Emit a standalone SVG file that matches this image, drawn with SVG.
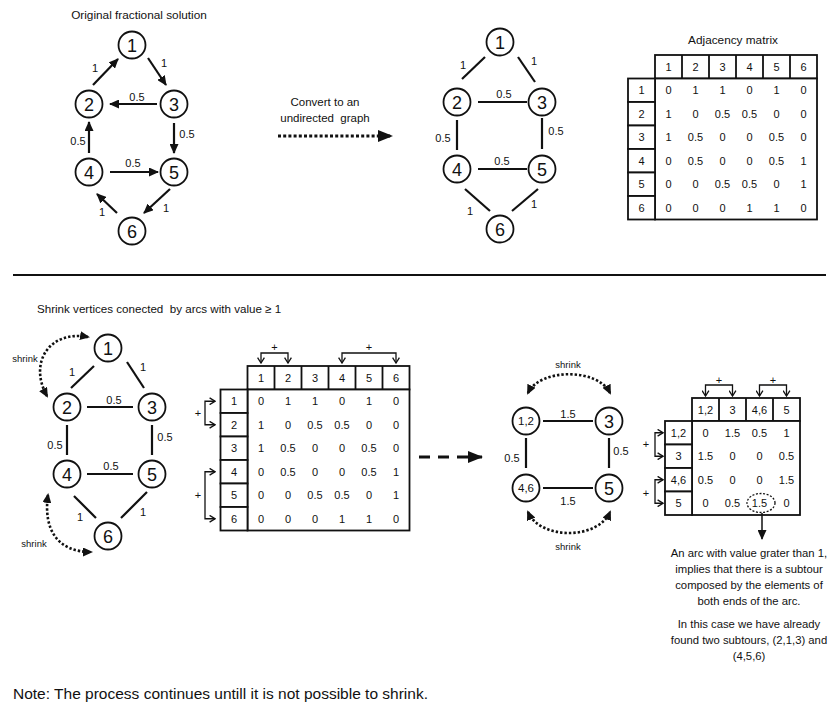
<svg xmlns="http://www.w3.org/2000/svg" width="830" height="707" viewBox="0 0 830 707">
<style>
text { font-family: "Liberation Sans", Arial, sans-serif; fill: #111; }
.title { font-size: 11.8px; }
.num { font-size: 18px; text-anchor: middle; }
.num-s { font-size: 11.5px; text-anchor: middle; }
.lbl { font-size: 11px; text-anchor: middle; }
.cell { font-size: 11px; text-anchor: middle; }
.small { font-size: 9.5px; text-anchor: middle; }
.para { font-size: 11.3px; text-anchor: middle; }
.note { font-size: 15.5px; }
.node circle { fill: #fff; stroke: #111; stroke-width: 1.8; }
.edge { stroke: #111; stroke-width: 2.2; fill: none; }
.arc { marker-end: url(#ah); }
.grid { fill: #fff; stroke: #111; stroke-width: 1.8; }
.div { stroke: #111; stroke-width: 1.8; }
.bracket { stroke: #111; stroke-width: 1.3; fill: none; marker-start: url(#chev); marker-end: url(#chev); }
.dots { stroke: #111; stroke-width: 2.6; fill: none; stroke-dasharray: 2.4 2; marker-start: url(#ahs); marker-end: url(#ahs); }
</style>
<defs>
  <marker id="ah" viewBox="0 0 10 9" refX="9" refY="4.5" markerWidth="10" markerHeight="9" markerUnits="userSpaceOnUse" orient="auto">
    <path d="M0,0 L10,4.5 L0,9 z" fill="#111"/>
  </marker>
  <marker id="ahs" viewBox="0 0 10 9" refX="8" refY="4.5" markerWidth="10" markerHeight="9" markerUnits="userSpaceOnUse" orient="auto-start-reverse">
    <path d="M0,0 L10,4.5 L0,9 z" fill="#111"/>
  </marker>
  <marker id="big" viewBox="0 0 15 12" refX="14" refY="6" markerWidth="15" markerHeight="12" markerUnits="userSpaceOnUse" orient="auto">
    <path d="M0,0 L15,6 L0,12 z" fill="#111"/>
  </marker>
  <marker id="chev" viewBox="0 0 7 8" refX="6" refY="4" markerWidth="7" markerHeight="8" markerUnits="userSpaceOnUse" orient="auto-start-reverse">
    <path d="M0.6,0.6 L6,4 L0.6,7.4" fill="none" stroke="#111" stroke-width="1.3"/>
  </marker>
</defs>

<rect width="830" height="707" fill="#fff"/>

<!-- ===== Directed fractional solution ===== -->
<text class="title" x="139" y="19" text-anchor="middle">Original fractional solution</text>
<g id="directed-connectors">
  <line class="edge arc" x1="93" y1="85" x2="118" y2="59"/>
  <line class="edge arc" x1="148" y1="58" x2="166" y2="85"/>
  <line class="edge arc" x1="157" y1="104" x2="110" y2="104"/>
  <line class="edge arc" x1="174" y1="123" x2="174" y2="153"/>
  <line class="edge arc" x1="89" y1="153" x2="89" y2="122"/>
  <line class="edge arc" x1="110" y1="172" x2="158" y2="172"/>
  <line class="edge arc" x1="170" y1="189" x2="144" y2="213"/>
  <line class="edge arc" x1="117" y1="213" x2="97" y2="194"/>
  <text class="lbl" x="95" y="72">1</text>
  <text class="lbl" x="164" y="67">1</text>
  <text class="lbl" x="137" y="101">0.5</text>
  <text class="lbl" x="187" y="138">0.5</text>
  <text class="lbl" x="78" y="145">0.5</text>
  <text class="lbl" x="133" y="167">0.5</text>
  <text class="lbl" x="166" y="212">1</text>
  <text class="lbl" x="102" y="216">1</text>
</g>
<g id="d-n1" class="node"><circle cx="132" cy="45" r="13.5"/><text class="num" x="132" y="51.5">1</text></g>
<g id="d-n2" class="node"><circle cx="89" cy="104" r="13.5"/><text class="num" x="89" y="110.5">2</text></g>
<g id="d-n3" class="node"><circle cx="174" cy="104" r="13.5"/><text class="num" x="174" y="110.5">3</text></g>
<g id="d-n4" class="node"><circle cx="89" cy="172" r="13.5"/><text class="num" x="89" y="178.5">4</text></g>
<g id="d-n5" class="node"><circle cx="174" cy="172" r="13.5"/><text class="num" x="174" y="178.5">5</text></g>
<g id="d-n6" class="node"><circle cx="132" cy="231" r="13.5"/><text class="num" x="132" y="237.5">6</text></g>

<!-- conversion arrow -->
<g id="convert">
  <text class="lbl" style="font-size:11.5px" x="325" y="105.5">Convert to an</text>
  <text class="lbl" style="font-size:11.5px" x="325" y="122" xml:space="preserve">undirected  graph</text>
  <line x1="278" y1="136" x2="392" y2="136" stroke="#111" stroke-width="3" stroke-dasharray="3 2.2" marker-end="url(#big)"/>
</g>

<!-- ===== Undirected graph ===== -->
<g id="undirected-connectors">
  <line class="edge" x1="462" y1="79" x2="485" y2="57"/>
  <line class="edge" x1="518" y1="57" x2="535" y2="82"/>
  <line class="edge" x1="478" y1="102" x2="527" y2="102"/>
  <line class="edge" x1="457" y1="120" x2="457" y2="150"/>
  <line class="edge" x1="542" y1="118" x2="542" y2="149"/>
  <line class="edge" x1="478" y1="169" x2="527" y2="169"/>
  <line class="edge" x1="465" y1="189" x2="490" y2="211"/>
  <line class="edge" x1="538" y1="189" x2="512" y2="211"/>
  <text class="lbl" x="463" y="69">1</text>
  <text class="lbl" x="534" y="65">1</text>
  <text class="lbl" x="504" y="98">0.5</text>
  <text class="lbl" x="443" y="142">0.5</text>
  <text class="lbl" x="556" y="135">0.5</text>
  <text class="lbl" x="502" y="165">0.5</text>
  <text class="lbl" x="470" y="215">1</text>
  <text class="lbl" x="534" y="208">1</text>
</g>
<g id="u-n1" class="node"><circle cx="500" cy="42" r="13.5"/><text class="num" x="500" y="48.5">1</text></g>
<g id="u-n2" class="node"><circle cx="457" cy="102" r="13.5"/><text class="num" x="457" y="108.5">2</text></g>
<g id="u-n3" class="node"><circle cx="542" cy="102" r="13.5"/><text class="num" x="542" y="108.5">3</text></g>
<g id="u-n4" class="node"><circle cx="457" cy="169" r="13.5"/><text class="num" x="457" y="175.5">4</text></g>
<g id="u-n5" class="node"><circle cx="542" cy="169" r="13.5"/><text class="num" x="542" y="175.5">5</text></g>
<g id="u-n6" class="node"><circle cx="500" cy="229" r="13.5"/><text class="num" x="500" y="235.5">6</text></g>

<!-- ===== Adjacency matrix ===== -->
<g id="matrix-top">
  <text class="title" x="733" y="43.5" text-anchor="middle">Adjacency matrix</text>
  <rect class="grid" x="655" y="55" width="162" height="23.5"/>
  <path class="div" d="M682,55V78.5M709,55V78.5M736,55V78.5M763,55V78.5M790,55V78.5"/>
  <rect class="grid" x="655" y="78.5" width="162" height="141"/>
  <rect class="grid" x="628" y="78.5" width="27" height="23.5"/>
  <rect class="grid" x="628" y="102" width="27" height="23.5"/>
  <rect class="grid" x="628" y="125.5" width="27" height="23.5"/>
  <rect class="grid" x="628" y="149" width="27" height="23.5"/>
  <rect class="grid" x="628" y="172.5" width="27" height="23.5"/>
  <rect class="grid" x="628" y="196" width="27" height="23.5"/>
  <text class="cell" y="70.75"><tspan x="668.5">1</tspan><tspan x="695.5">2</tspan><tspan x="722.5">3</tspan><tspan x="749.5">4</tspan><tspan x="776.5">5</tspan><tspan x="803.5">6</tspan></text>
  <text class="cell" x="641.5" y="94.25">1</text>
  <text class="cell" x="641.5" y="117.75">2</text>
  <text class="cell" x="641.5" y="141.25">3</text>
  <text class="cell" x="641.5" y="164.75">4</text>
  <text class="cell" x="641.5" y="188.25">5</text>
  <text class="cell" x="641.5" y="211.75">6</text>
  <text class="cell" y="94.25"><tspan x="668.5">0</tspan><tspan x="695.5">1</tspan><tspan x="722.5">1</tspan><tspan x="749.5">0</tspan><tspan x="776.5">1</tspan><tspan x="803.5">0</tspan></text>
  <text class="cell" y="117.75"><tspan x="668.5">1</tspan><tspan x="695.5">0</tspan><tspan x="722.5">0.5</tspan><tspan x="749.5">0.5</tspan><tspan x="776.5">0</tspan><tspan x="803.5">0</tspan></text>
  <text class="cell" y="141.25"><tspan x="668.5">1</tspan><tspan x="695.5">0.5</tspan><tspan x="722.5">0</tspan><tspan x="749.5">0</tspan><tspan x="776.5">0.5</tspan><tspan x="803.5">0</tspan></text>
  <text class="cell" y="164.75"><tspan x="668.5">0</tspan><tspan x="695.5">0.5</tspan><tspan x="722.5">0</tspan><tspan x="749.5">0</tspan><tspan x="776.5">0.5</tspan><tspan x="803.5">1</tspan></text>
  <text class="cell" y="188.25"><tspan x="668.5">0</tspan><tspan x="695.5">0</tspan><tspan x="722.5">0.5</tspan><tspan x="749.5">0.5</tspan><tspan x="776.5">0</tspan><tspan x="803.5">1</tspan></text>
  <text class="cell" y="211.75"><tspan x="668.5">0</tspan><tspan x="695.5">0</tspan><tspan x="722.5">0</tspan><tspan x="749.5">1</tspan><tspan x="776.5">1</tspan><tspan x="803.5">0</tspan></text>
</g>

<!-- separator -->
<line x1="13" y1="275" x2="826" y2="275" stroke="#111" stroke-width="2"/>

<text class="title" style="font-size:11.6px" x="37" y="313" xml:space="preserve">Shrink vertices conected  by arcs with value ≥ 1</text>

<!-- ===== Graph before shrinking ===== -->
<g id="shrink-connectors">
  <line class="edge" x1="71" y1="388" x2="94" y2="366"/>
  <line class="edge" x1="127" y1="362" x2="144" y2="388"/>
  <line class="edge" x1="87" y1="407" x2="133" y2="407"/>
  <line class="edge" x1="67" y1="425" x2="67" y2="455"/>
  <line class="edge" x1="152" y1="425" x2="152" y2="455"/>
  <line class="edge" x1="87" y1="474" x2="133" y2="474"/>
  <line class="edge" x1="74" y1="496" x2="96" y2="518"/>
  <line class="edge" x1="147" y1="492" x2="121" y2="518"/>
  <text class="lbl" x="72" y="376">1</text>
  <text class="lbl" x="143" y="371">1</text>
  <text class="lbl" x="114" y="404">0.5</text>
  <text class="lbl" x="55" y="449">0.5</text>
  <text class="lbl" x="165" y="441">0.5</text>
  <text class="lbl" x="111" y="470">0.5</text>
  <text class="lbl" x="80" y="521">1</text>
  <text class="lbl" x="143" y="516">1</text>
  <path class="dots" d="M88,337 C50,330 28,362 47,396"/>
  <path class="dots" d="M48,495 C43,530 58,552 91,552"/>
  <text class="small" x="25" y="362">shrink</text>
  <text class="small" x="34" y="547">shrink</text>
</g>
<g id="s-n1" class="node"><circle cx="108" cy="348" r="13.5"/><text class="num" x="108" y="354.5">1</text></g>
<g id="s-n2" class="node"><circle cx="67" cy="407" r="13.5"/><text class="num" x="67" y="413.5">2</text></g>
<g id="s-n3" class="node"><circle cx="152" cy="407" r="13.5"/><text class="num" x="152" y="413.5">3</text></g>
<g id="s-n4" class="node"><circle cx="67" cy="474" r="13.5"/><text class="num" x="67" y="480.5">4</text></g>
<g id="s-n5" class="node"><circle cx="152" cy="474" r="13.5"/><text class="num" x="152" y="480.5">5</text></g>
<g id="s-n6" class="node"><circle cx="108" cy="536" r="13.5"/><text class="num" x="108" y="542.5">6</text></g>

<!-- ===== Matrix with merge brackets ===== -->
<g id="matrix-merge">
  <path class="bracket" d="M261,363 V353 H288 V363"/>
  <path class="bracket" d="M342,363 V353 H396 V363"/>
  <text class="cell" x="274.5" y="351">+</text>
  <text class="cell" x="369" y="351">+</text>
  <path class="bracket" d="M215,401.25 H205 V424.75 H215"/>
  <path class="bracket" d="M215,471.75 H205 V518.75 H215"/>
  <text class="cell" x="198" y="417">+</text>
  <text class="cell" x="198" y="499">+</text>
  <rect class="grid" x="247.5" y="366" width="162" height="23.5"/>
  <path class="div" d="M274.5,366V389.5M301.5,366V389.5M328.5,366V389.5M355.5,366V389.5M382.5,366V389.5"/>
  <rect class="grid" x="247.5" y="389.5" width="162" height="141"/>
  <rect class="grid" x="220.5" y="389.5" width="27" height="23.5"/>
  <rect class="grid" x="220.5" y="413" width="27" height="23.5"/>
  <rect class="grid" x="220.5" y="436.5" width="27" height="23.5"/>
  <rect class="grid" x="220.5" y="460" width="27" height="23.5"/>
  <rect class="grid" x="220.5" y="483.5" width="27" height="23.5"/>
  <rect class="grid" x="220.5" y="507" width="27" height="23.5"/>
  <text class="cell" y="381.75"><tspan x="261">1</tspan><tspan x="288">2</tspan><tspan x="315">3</tspan><tspan x="342">4</tspan><tspan x="369">5</tspan><tspan x="396">6</tspan></text>
  <text class="cell" x="234" y="405.25">1</text>
  <text class="cell" x="234" y="428.75">2</text>
  <text class="cell" x="234" y="452.25">3</text>
  <text class="cell" x="234" y="475.75">4</text>
  <text class="cell" x="234" y="499.25">5</text>
  <text class="cell" x="234" y="522.75">6</text>
  <text class="cell" y="405.25"><tspan x="261">0</tspan><tspan x="288">1</tspan><tspan x="315">1</tspan><tspan x="342">0</tspan><tspan x="369">1</tspan><tspan x="396">0</tspan></text>
  <text class="cell" y="428.75"><tspan x="261">1</tspan><tspan x="288">0</tspan><tspan x="315">0.5</tspan><tspan x="342">0.5</tspan><tspan x="369">0</tspan><tspan x="396">0</tspan></text>
  <text class="cell" y="452.25"><tspan x="261">1</tspan><tspan x="288">0.5</tspan><tspan x="315">0</tspan><tspan x="342">0</tspan><tspan x="369">0.5</tspan><tspan x="396">0</tspan></text>
  <text class="cell" y="475.75"><tspan x="261">0</tspan><tspan x="288">0.5</tspan><tspan x="315">0</tspan><tspan x="342">0</tspan><tspan x="369">0.5</tspan><tspan x="396">1</tspan></text>
  <text class="cell" y="499.25"><tspan x="261">0</tspan><tspan x="288">0</tspan><tspan x="315">0.5</tspan><tspan x="342">0.5</tspan><tspan x="369">0</tspan><tspan x="396">1</tspan></text>
  <text class="cell" y="522.75"><tspan x="261">0</tspan><tspan x="288">0</tspan><tspan x="315">0</tspan><tspan x="342">1</tspan><tspan x="369">1</tspan><tspan x="396">0</tspan></text>
</g>

<!-- step arrow -->
<line x1="419" y1="457" x2="482" y2="457" stroke="#111" stroke-width="3" stroke-dasharray="11 8" marker-end="url(#big)"/>

<!-- ===== Shrunk graph ===== -->
<g id="shrunk-connectors">
  <line class="edge" x1="543" y1="421" x2="593" y2="421"/>
  <line class="edge" x1="526" y1="438" x2="526" y2="468"/>
  <line class="edge" x1="609" y1="438" x2="609" y2="468"/>
  <line class="edge" x1="543" y1="488" x2="593" y2="488"/>
  <text class="lbl" x="568" y="418">1.5</text>
  <text class="lbl" x="512" y="462">0.5</text>
  <text class="lbl" x="621" y="455">0.5</text>
  <text class="lbl" x="568" y="505">1.5</text>
  <path class="dots" d="M528,393 C540,368 598,368 610,393"/>
  <path class="dots" d="M528,512 C540,540 598,540 610,512"/>
  <text class="small" x="568" y="368">shrink</text>
  <text class="small" x="568" y="550">shrink</text>
</g>
<g id="r-n12" class="node"><circle cx="526" cy="421" r="13.5"/><text class="num-s" x="526" y="425">1,2</text></g>
<g id="r-n3" class="node"><circle cx="609" cy="421" r="13.5"/><text class="num" x="609" y="427.5">3</text></g>
<g id="r-n46" class="node"><circle cx="526" cy="488" r="13.5"/><text class="num-s" x="526" y="492">4,6</text></g>
<g id="r-n5" class="node"><circle cx="609" cy="488" r="13.5"/><text class="num" x="609" y="494.5">5</text></g>

<!-- ===== Shrunk matrix ===== -->
<g id="matrix-shrunk">
  <path class="bracket" d="M705.5,396 V385 H732.5 V396"/>
  <path class="bracket" d="M759.5,396 V385 H786.5 V396"/>
  <text class="cell" x="719" y="383.5">+</text>
  <text class="cell" x="773" y="383.5">+</text>
  <path class="bracket" d="M663,432.75 H655 V456.25 H663"/>
  <path class="bracket" d="M663,479.75 H655 V503.25 H663"/>
  <text class="cell" x="646" y="447.5">+</text>
  <text class="cell" x="646" y="496.5">+</text>
  <rect class="grid" x="692" y="398" width="108" height="23"/>
  <path class="div" d="M719,398V421M746,398V421M773,398V421"/>
  <rect class="grid" x="692" y="421" width="108" height="94"/>
  <rect class="grid" x="665" y="421" width="27" height="23.5"/>
  <rect class="grid" x="665" y="444.5" width="27" height="23.5"/>
  <rect class="grid" x="665" y="468" width="27" height="23.5"/>
  <rect class="grid" x="665" y="491.5" width="27" height="23.5"/>
  <text class="cell" y="413.5"><tspan x="705.5">1,2</tspan><tspan x="732.5">3</tspan><tspan x="759.5">4,6</tspan><tspan x="786.5">5</tspan></text>
  <text class="cell" x="678.5" y="436.75">1,2</text>
  <text class="cell" x="678.5" y="460.25">3</text>
  <text class="cell" x="678.5" y="483.75">4,6</text>
  <text class="cell" x="678.5" y="507.25">5</text>
  <text class="cell" y="436.75"><tspan x="705.5">0</tspan><tspan x="732.5">1.5</tspan><tspan x="759.5">0.5</tspan><tspan x="786.5">1</tspan></text>
  <text class="cell" y="460.25"><tspan x="705.5">1.5</tspan><tspan x="732.5">0</tspan><tspan x="759.5">0</tspan><tspan x="786.5">0.5</tspan></text>
  <text class="cell" y="483.75"><tspan x="705.5">0.5</tspan><tspan x="732.5">0</tspan><tspan x="759.5">0</tspan><tspan x="786.5">1.5</tspan></text>
  <text class="cell" y="507.25"><tspan x="705.5">0</tspan><tspan x="732.5">0.5</tspan><tspan x="759.5">1.5</tspan><tspan x="786.5">0</tspan></text>
  <ellipse cx="761" cy="503" rx="14" ry="9.5" fill="none" stroke="#111" stroke-width="1.3" stroke-dasharray="2 1.6"/>
  <line x1="762" y1="513" x2="762" y2="539" stroke="#111" stroke-width="1.5" marker-end="url(#ah)"/>
</g>

<g id="explanation">
  <text class="para" x="749" y="557">An arc with value grater than 1,</text>
  <text class="para" x="749" y="573">implies that there is a subtour</text>
  <text class="para" x="749" y="589">composed by the elements of</text>
  <text class="para" x="749" y="605">both ends of the arc.</text>
  <text class="para" x="749" y="628">In this case we have already</text>
  <text class="para" x="749" y="644">found two subtours, (2,1,3) and</text>
  <text class="para" x="749" y="660">(4,5,6)</text>
</g>

<text class="note" x="13" y="699">Note: The process continues untill it is not possible to shrink.</text>
</svg>
